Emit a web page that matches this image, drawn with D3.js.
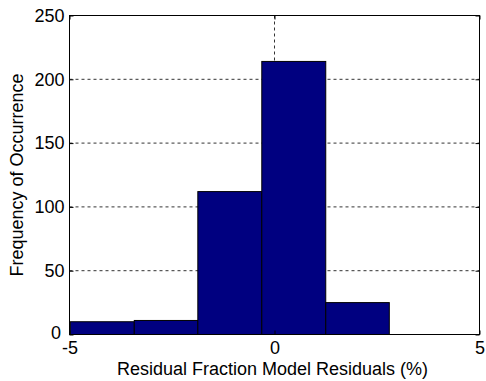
<!DOCTYPE html>
<html>
<head>
<meta charset="utf-8">
<script src="https://cdn.jsdelivr.net/npm/d3@7"></script>
<style>
html,body{margin:0;padding:0;background:#fff;}
svg{display:block;}
text{font-family:"Liberation Sans",Arial,sans-serif;fill:#000;}
</style>
</head>
<body>
<svg id="chart" width="486" height="381"></svg>
<script>
const binEdges = [-4.98, -3.42, -1.87, -0.31, 1.25, 2.80];
const counts = [10, 11, 112, 214, 25];
const xTicks = [-5, 0, 5];
const yTicks = [0, 50, 100, 150, 200, 250];
const xLabel = "Residual Fraction Model Residuals (%)";
const yLabel = "Frequency of Occurrence";

const bins = counts.map((c, i) => ({x0: binEdges[i], x1: binEdges[i+1], count: c}));

const svg = d3.select("#chart");
const L = 69.5, R = 479.5, T = 15.5, B = 334.5;
const FS = 18;
const x = d3.scaleLinear().domain([-5, 5]).range([L, R]);
const y = d3.scaleLinear().domain([0, 250]).range([B, T]);

// grid
const grid = svg.append("g").attr("stroke", "#333").attr("stroke-width", 1).attr("stroke-dasharray", "3,3");
yTicks.filter(v => v > 0 && v < 250).forEach(v => {
  grid.append("line").attr("x1", L).attr("x2", R).attr("y1", y(v)).attr("y2", y(v));
});
xTicks.filter(v => v > -5 && v < 5).forEach(v => {
  grid.append("line").attr("x1", x(v)).attr("x2", x(v)).attr("y1", T).attr("y2", B);
});

// bars
svg.append("g").selectAll("rect").data(bins).join("rect")
  .attr("x", d => x(d.x0))
  .attr("width", d => x(d.x1) - x(d.x0))
  .attr("y", d => y(d.count))
  .attr("height", d => y(0) - y(d.count))
  .attr("fill", "#000080")
  .attr("stroke", "#000")
  .attr("stroke-width", 1);

// frame
svg.append("rect").attr("x", L).attr("y", T).attr("width", R - L).attr("height", B - T)
  .attr("fill", "none").attr("stroke", "#000").attr("stroke-width", 1);

// axes
const xAxis = d3.axisBottom(x).tickValues(xTicks).tickSize(-4).tickPadding(7).tickFormat(d => String(d));
const gx = svg.append("g").attr("transform", `translate(0,${B})`).call(xAxis);
gx.select(".domain").remove();
gx.selectAll("text").attr("font-size", FS).attr("dy", "0.71em").attr("font-family", "Liberation Sans, Arial, sans-serif");
const gxt = svg.append("g").attr("transform", `translate(0,${T})`).call(d3.axisTop(x).tickValues(xTicks).tickSize(-4).tickFormat(""));
gxt.select(".domain").remove();

const yAxis = d3.axisLeft(y).tickValues(yTicks).tickSize(-4).tickPadding(5);
const gy = svg.append("g").attr("transform", `translate(${L},0)`).call(yAxis);
gy.select(".domain").remove();
gy.selectAll("text").attr("font-size", FS).attr("font-family", "Liberation Sans, Arial, sans-serif");
gy.selectAll(".tick").filter(d => d === 0).select("text").attr("dy", "0.2em").attr("x", -8.5);
const gyr = svg.append("g").attr("transform", `translate(${R},0)`).call(d3.axisRight(y).tickValues(yTicks).tickSize(-4).tickFormat(""));
gyr.select(".domain").remove();

// labels
svg.append("text").attr("x", (L + R) / 2 - 2).attr("y", 375)
  .attr("text-anchor", "middle").attr("font-size", FS).text(xLabel);
svg.append("text").attr("transform", `translate(23,${(T + B) / 2}) rotate(-90)`)
  .attr("text-anchor", "middle").attr("font-size", FS).text(yLabel);
</script>
</body>
</html>
